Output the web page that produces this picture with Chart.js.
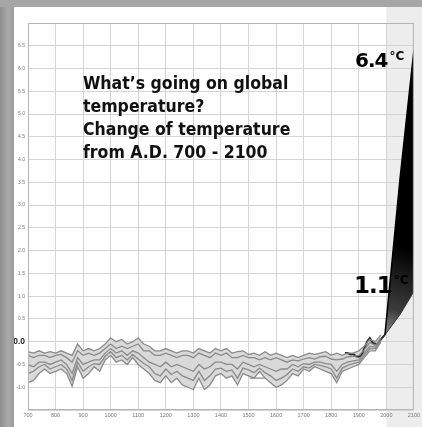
<!DOCTYPE html>
<html>
<head>
<meta charset="utf-8">
<script src="https://cdn.jsdelivr.net/npm/chart.js@4"></script>
<style>
  html, body { margin: 0; padding: 0; }
  body {
    width: 422px; height: 427px; overflow: hidden; position: relative;
    background: linear-gradient(90deg, #8f8f8f 0px, #a9a9a9 8px, #9c9c9c 14px);
  }
  #top { position: absolute; left: 0; top: 0; width: 422px; height: 7px; background: #a6a6a6; }
  #panel { position: absolute; left: 14px; top: 7px; width: 408px; height: 420px; background: #fff; }
  #title {
    position: absolute; left: 83px; top: 72px;
    font: bold 17.5px "Comic Sans MS", "DejaVu Sans Condensed", "DejaVu Sans", sans-serif;
    line-height: 23px; color: #111; white-space: nowrap;
  }
  .big { position: absolute; font-family: "DejaVu Sans", sans-serif; font-weight: bold; color: #000; white-space: nowrap; letter-spacing: -1px; }
  .big sup { font-size: 12px; vertical-align: top; position: relative; top: 1px; margin-left: 2px; letter-spacing: 0; }
</style>
</head>
<body>
<div id="top"></div>
<div id="panel"><canvas id="grafico" width="408" height="420"></canvas></div>
<div id="title">What’s going on global<br>temperature?<br>Change of temperature<br>from A.D. 700 - 2100</div>
<div class="big" style="left:355px; top:48px; font-size:20px;">6.4<sup>°C</sup></div>
<div class="big" style="left:354px; top:272px; font-size:23px;">1.1<sup>°C</sup></div>
<script>
// años de las reconstrucciones (cada 20 años)
const years = [700, 720, 740, 760, 780, 800, 820, 840, 860, 880, 900, 920, 940, 960, 980,
  1000, 1020, 1040, 1060, 1080, 1100, 1120, 1140, 1160, 1180, 1200, 1220, 1240, 1260, 1280,
  1300, 1320, 1340, 1360, 1380, 1400, 1420, 1440, 1460, 1480, 1500, 1520, 1540, 1560, 1580,
  1600, 1620, 1640, 1660, 1680, 1700, 1720, 1740, 1760, 1780, 1800, 1820, 1840, 1860, 1880,
  1900, 1920, 1940, 1960, 1980];

const reconUpper = [-0.22, -0.25, -0.2, -0.25, -0.22, -0.25, -0.2, -0.25, -0.3, -0.05, -0.2, -0.15, -0.2, -0.15, -0.05,
  0.08, 0.0, 0.05, -0.05, 0.0, 0.08, -0.05, -0.1, -0.2, -0.2, -0.15, -0.2, -0.25, -0.2, -0.2,
  -0.25, -0.15, -0.2, -0.25, -0.15, -0.2, -0.15, -0.25, -0.22, -0.2, -0.28, -0.25, -0.3, -0.22, -0.3,
  -0.25, -0.3, -0.35, -0.3, -0.35, -0.3, -0.25, -0.28, -0.25, -0.22, -0.3, -0.25, -0.3, -0.25, -0.25,
  -0.2, -0.1, 0.05, 0.0, 0.15];

const reconLower = [-0.9, -0.85, -0.7, -0.6, -0.7, -0.65, -0.6, -0.7, -0.98, -0.55, -0.8, -0.7, -0.55, -0.65, -0.4,
  -0.3, -0.45, -0.4, -0.5, -0.35, -0.5, -0.6, -0.7, -0.85, -0.9, -0.75, -0.9, -0.8, -0.95, -1.0,
  -1.05, -0.8, -1.05, -0.95, -0.75, -0.7, -0.8, -0.75, -0.95, -0.7, -0.75, -0.8, -0.65, -0.8, -0.9,
  -1.0, -0.95, -0.85, -0.7, -0.75, -0.6, -0.65, -0.55, -0.6, -0.65, -0.7, -0.9, -0.65, -0.6, -0.55,
  -0.5, -0.35, -0.2, -0.2, 0.0];

const reconA = [-0.3, -0.35, -0.3, -0.3, -0.35, -0.3, -0.28, -0.35, -0.45, -0.2, -0.3, -0.25, -0.3, -0.25, -0.15,
  -0.05, -0.15, -0.1, -0.15, -0.1, -0.05, -0.2, -0.2, -0.3, -0.3, -0.25, -0.3, -0.35, -0.3, -0.3,
  -0.35, -0.25, -0.3, -0.35, -0.25, -0.3, -0.25, -0.35, -0.35, -0.3, -0.35, -0.35, -0.4, -0.35, -0.4,
  -0.35, -0.4, -0.45, -0.4, -0.42, -0.38, -0.35, -0.38, -0.33, -0.32, -0.38, -0.4, -0.38, -0.33, -0.32,
  -0.3, -0.18, -0.02, -0.08, 0.08];

const reconB = [-0.5, -0.55, -0.45, -0.45, -0.5, -0.45, -0.4, -0.5, -0.7, -0.35, -0.5, -0.45, -0.4, -0.4, -0.25,
  -0.15, -0.25, -0.2, -0.3, -0.2, -0.25, -0.35, -0.45, -0.5, -0.55, -0.45, -0.55, -0.5, -0.55, -0.6,
  -0.65, -0.5, -0.6, -0.55, -0.45, -0.45, -0.5, -0.5, -0.6, -0.45, -0.5, -0.55, -0.5, -0.55, -0.6,
  -0.65, -0.6, -0.6, -0.5, -0.55, -0.48, -0.5, -0.45, -0.45, -0.48, -0.5, -0.65, -0.5, -0.45, -0.42,
  -0.4, -0.25, -0.1, -0.12, 0.02];

const reconC = [-0.7, -0.65, -0.55, -0.5, -0.6, -0.55, -0.5, -0.6, -0.85, -0.45, -0.65, -0.55, -0.48, -0.5, -0.32,
  -0.22, -0.35, -0.3, -0.4, -0.28, -0.38, -0.48, -0.55, -0.7, -0.75, -0.6, -0.72, -0.65, -0.75, -0.8,
  -0.85, -0.65, -0.85, -0.75, -0.6, -0.58, -0.65, -0.62, -0.8, -0.58, -0.62, -0.68, -0.58, -0.68, -0.75,
  -0.85, -0.8, -0.72, -0.6, -0.65, -0.55, -0.58, -0.5, -0.52, -0.55, -0.6, -0.8, -0.58, -0.52, -0.48,
  -0.45, -0.3, -0.15, -0.15, -0.02];

// tramo corto horizontal hacia 1500-1560
const flatYears = [1505, 1560];
const flatTemp = [-0.8, -0.8];

// registro instrumental
const instYears = [1850, 1860, 1870, 1880, 1890, 1900, 1910, 1920, 1930, 1940, 1950, 1960, 1970, 1980, 1990, 1995];
const instTemp = [-0.25, -0.25, -0.28, -0.27, -0.32, -0.33, -0.3, -0.15, 0.0, 0.08, -0.02, -0.05, -0.05, 0.05, 0.12, 0.15];

// proyección hasta 2100
const projYears = [1995, 2050, 2100];
const projHigh = [0.15, 3.6, 6.4];
const projLow = [0.15, 0.6, 1.1];

const xTicks = [700, 800, 900, 1000, 1100, 1200, 1300, 1400, 1500, 1600, 1700, 1800, 1900, 2000, 2100];

const pts = (xs, ys) => xs.map((x, i) => ({ x: x, y: ys[i] }));

const lineaGris = { borderColor: "#8a8a8a", borderWidth: 1.3, pointRadius: 0, fill: false };

const esCero = c => c.tick && c.tick.value === 0;

const fondo = {
  id: "fondo",
  beforeDraw(chart) {
    const { ctx, scales } = chart;
    const x0 = scales.x.getPixelForValue(2000);
    ctx.save();
    ctx.fillStyle = "#ededed";
    ctx.fillRect(x0, 0, chart.width - x0, chart.height);
    ctx.restore();
  },
  afterDatasetsDraw(chart) {
    const { ctx, chartArea: a } = chart;
    ctx.save();
    ctx.strokeStyle = "#b5b5b5";
    ctx.lineWidth = 1;
    ctx.strokeRect(a.left + 0.5, a.top + 0.5, a.right - a.left - 1, a.bottom - a.top - 1);
    ctx.restore();
  }
};

new Chart(document.getElementById("grafico"), {
  type: "line",
  data: {
    datasets: [
      {
        data: pts(projYears, projHigh), borderColor: "#000", borderWidth: 1.5, pointRadius: 0,
        fill: "+1",
        backgroundColor: ctx => {
          const { chart } = ctx;
          if (!chart.chartArea) return "#333";
          const xs = chart.scales.x, ys = chart.scales.y;
          const g = chart.ctx.createLinearGradient(xs.getPixelForValue(1995), ys.getPixelForValue(0.15),
            xs.getPixelForValue(2100), ys.getPixelForValue(2.0));
          g.addColorStop(0, "#8c8c8c");
          g.addColorStop(0.3, "#3c3c3c");
          g.addColorStop(1, "#000");
          return g;
        }
      },
      { data: pts(projYears, projLow), borderColor: "#333", borderWidth: 1, pointRadius: 0, fill: false },
      { data: pts(years, reconUpper), ...lineaGris, fill: "+1", backgroundColor: "#d9d9d9" },
      { data: pts(years, reconLower), ...lineaGris },
      { data: pts(years, reconA), ...lineaGris },
      { data: pts(years, reconB), ...lineaGris },
      { data: pts(years, reconC), ...lineaGris },
      { data: pts(flatYears, flatTemp), ...lineaGris },
      { data: pts(instYears, instTemp), borderColor: "#2a2a2a", borderWidth: 2, pointRadius: 0, fill: false }
    ]
  },
  options: {
    responsive: false,
    animation: false,
    devicePixelRatio: 1,
    layout: { padding: { top: 16, right: 7, left: 0, bottom: 0 } },
    plugins: {
      legend: { display: false },
      tooltip: { enabled: false },
      filler: { drawTime: "beforeDatasetsDraw" }
    },
    scales: {
      x: {
        type: "linear", min: 700, max: 2100,
        afterBuildTicks: s => { s.ticks = xTicks.map(v => ({ value: v })); },
        afterFit: s => { s.height = 17; },
        ticks: { color: "#777", font: { size: 5.5 }, maxRotation: 0, autoSkip: false, padding: 2, callback: v => String(v) },
        grid: { color: "#d4d4d4", drawTicks: false },
        border: { display: false }
      },
      y: {
        min: -1.5, max: 7,
        afterFit: s => { s.width = 14; },
        ticks: {
          stepSize: 0.5,
          padding: 3,
          callback: v => (v <= -1.5 || v >= 7) ? "" : v.toFixed(1),
          color: c => esCero(c) ? "#222" : "#777",
          font: c => esCero(c) ? { size: 8.5, weight: "bold", family: "Liberation Sans" } : { size: 5 }
        },
        grid: { color: "#d4d4d4", drawTicks: false },
        border: { display: false }
      }
    }
  },
  plugins: [fondo]
});
</script>
</body>
</html>
